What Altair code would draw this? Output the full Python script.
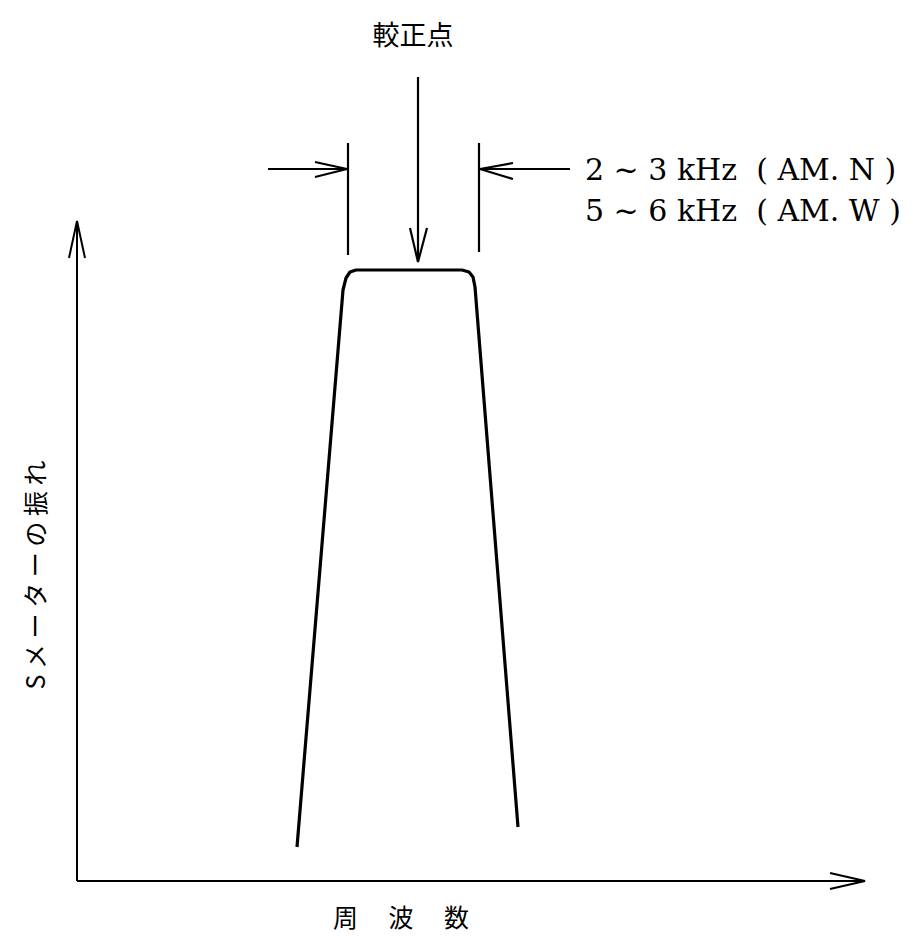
import altair as alt
import pandas as pd

# Response curve (frequency units, S-meter deflection units)
curve_x = [22.0, 26.6, 26.9, 27.3, 27.9, 38.5, 39.2, 39.6, 39.8, 44.1]
curve_y = [3.4, 59.1, 60.3, 60.9, 61.1, 61.1, 60.9, 60.4, 59.4, 5.4]

# Axis lines with arrowheads
axis_seg = ["yaxis", "yaxis", "yhead", "yhead", "yhead", "xaxis", "xaxis", "xhead", "xhead", "xhead"]
axis_x = [0.0, 0.0, -0.8, 0.0, 0.8, 0.0, 78.8, 75.3, 78.8, 75.3]
axis_y = [0.0, 66.0, 62.3, 66.0, 62.3, 0.0, 0.0, 0.8, 0.0, -0.8]

# Bandwidth markers and calibration arrow
mark_seg = ["lv", "lv", "rv", "rv",
            "la", "la", "lah", "lah", "lah",
            "ra", "ra", "rah", "rah", "rah",
            "ca", "ca", "cah", "cah", "cah"]
mark_x = [27.1, 27.1, 40.2, 40.2,
          19.1, 27.0, 23.8, 27.0, 23.8,
          49.3, 40.3, 43.6, 40.3, 43.6,
          34.1, 34.1, 33.3, 34.1, 35.0]
mark_y = [73.8, 62.6, 73.8, 62.9,
          71.2, 71.2, 71.9, 71.2, 70.4,
          71.2, 71.2, 71.8, 71.2, 70.2,
          80.4, 62.3, 65.3, 61.9, 65.3]

# Labels
title_text = ["較正点"]
title_x = [33.6]
title_y = [84.4]
bw_text = ["2 ~ 3 kHz\u00a0\u00a0( AM. N )", "5 ~ 6 kHz\u00a0\u00a0( AM. W )"]
bw_x = [50.8, 50.8]
bw_y = [71.0, 66.9]
ylab_text = ["S メ ー タ ー の 振 れ"]
ylab_x = [-4.0]
ylab_y = [30.6]
xlab_text = ["周 　波 　数"]
xlab_x = [32.4]
xlab_y = [-3.8]

XDOM = [-6.9, 82.9]
YDOM = [-5.3, 87.3]

def xs():
    return alt.X("x:Q", scale=alt.Scale(domain=XDOM, nice=False, zero=False), axis=None)

def ys():
    return alt.Y("y:Q", scale=alt.Scale(domain=YDOM, nice=False, zero=False), axis=None)

curve_df = pd.DataFrame({"x": curve_x, "y": curve_y, "o": list(range(len(curve_x)))})
axis_df = pd.DataFrame({"x": axis_x, "y": axis_y, "seg": axis_seg, "o": list(range(len(axis_x)))})
mark_df = pd.DataFrame({"x": mark_x, "y": mark_y, "seg": mark_seg, "o": list(range(len(mark_x)))})

curve = alt.Chart(curve_df).mark_line(color="black", strokeWidth=3.2, strokeJoin="round").encode(
    x=xs(), y=ys(), order="o:Q")
axes = alt.Chart(axis_df).mark_line(color="black", strokeWidth=2).encode(
    x=xs(), y=ys(), detail="seg:N", order="o:Q")
marks = alt.Chart(mark_df).mark_line(color="black", strokeWidth=2.2).encode(
    x=xs(), y=ys(), detail="seg:N", order="o:Q")

title = alt.Chart(pd.DataFrame({"x": title_x, "y": title_y, "t": title_text})).mark_text(
    font="Noto Sans CJK JP", fontSize=27, color="black", align="center", baseline="middle"
).encode(x=xs(), y=ys(), text="t:N")
bw = alt.Chart(pd.DataFrame({"x": bw_x, "y": bw_y, "t": bw_text})).mark_text(
    font="DejaVu Serif", fontSize=30, color="black", align="left", baseline="middle"
).encode(x=xs(), y=ys(), text="t:N")
ylab = alt.Chart(pd.DataFrame({"x": ylab_x, "y": ylab_y, "t": ylab_text})).mark_text(
    font="Noto Sans CJK JP", fontSize=25, color="black", align="center", baseline="middle", angle=270
).encode(x=xs(), y=ys(), text="t:N")
xlab = alt.Chart(pd.DataFrame({"x": xlab_x, "y": xlab_y, "t": xlab_text})).mark_text(
    font="Noto Sans CJK JP", fontSize=25, color="black", align="center", baseline="middle"
).encode(x=xs(), y=ys(), text="t:N")

chart = alt.layer(curve, axes, marks, title, bw, ylab, xlab).properties(
    width=898, height=926, autosize=alt.AutoSizeParams(type="none"), padding=0,
    background="white"
).configure_view(stroke=None)

chart.save("out.html", embed_options={"renderer": "svg", "actions": False})
